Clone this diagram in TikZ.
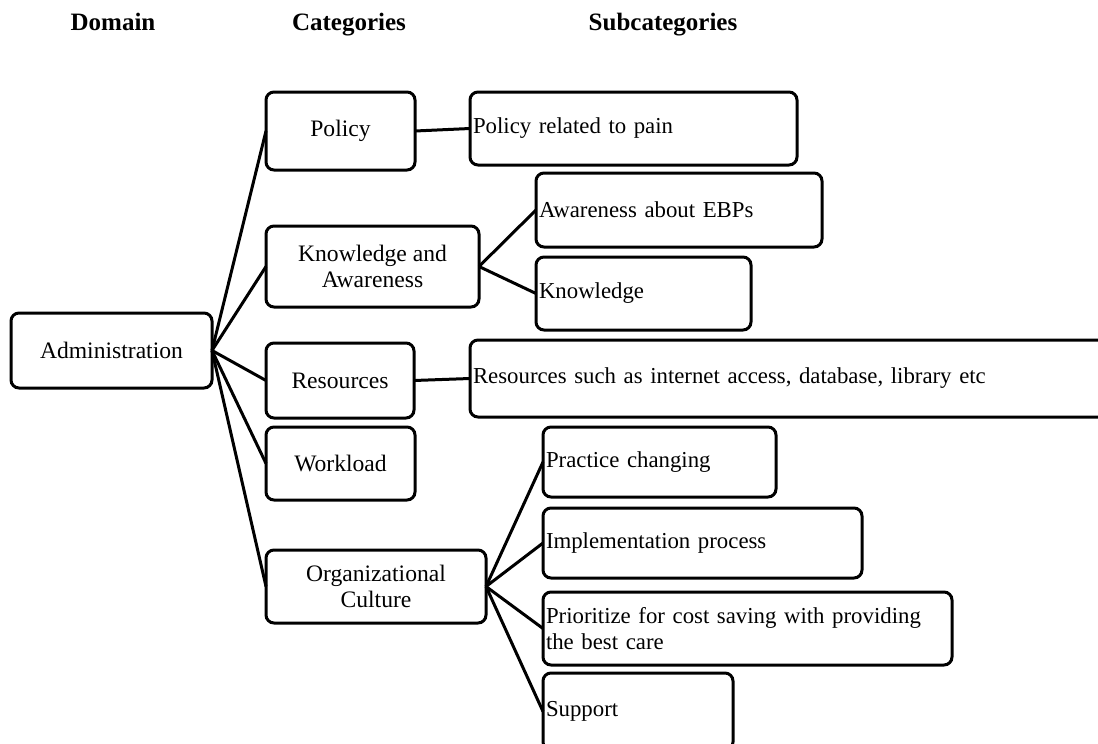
\documentclass[tikz,border=0pt]{standalone}
\usepackage{fontspec}
\setmainfont{Liberation Serif}
\usepackage{tikz}
\usetikzlibrary{
  positioning  % 节点相对定位
}

\tikzset{
  headtext/.style={anchor=base, font=\fontsize{12.5}{14}\selectfont\bfseries},
  catbox/.style={draw, rounded corners=4pt, line width=1.5pt, align=center,
    anchor=north west, inner sep=0pt, outer sep=0pt,
    font=\fontsize{11.8}{13.2}\selectfont},
  subbox/.style={draw, rounded corners=4pt, line width=1.5pt, align=left,
    anchor=north west, inner xsep=1.5pt, inner ysep=0pt, outer sep=0pt,
    font=\fontsize{11.4}{12.6}\selectfont},
  link/.style={line width=1.5pt}
}

\begin{document}
\begin{tikzpicture}[x=0.5pt, y=-0.5pt]
  \useasboundingbox (0,0) rectangle (1098,744);

  % =========== 表头 ===========
  \node[headtext] (hdomain) at (113,31) {Domain};
  \node[headtext] (hcat) at (349,31) {Categories};
  \node[headtext] (hsub) at (663,31) {Subcategories};

  % =========== 领域 ===========
  \node[catbox, minimum width=100.5pt, minimum height=37.5pt] (admin) at (11,313) {Administration};

  % =========== 类别 ===========
  \node[catbox, minimum width=74.5pt, minimum height=39pt] (policy) at (266,92) {Policy};
  \node[catbox, minimum width=106.5pt, minimum height=40.5pt] (knowaware) at (266,226) {Knowledge and\\Awareness};
  \node[catbox, minimum width=74pt, minimum height=37.5pt] (resources) at (266,343) {Resources};
  \node[catbox, minimum width=74.5pt, minimum height=36.5pt] (workload) at (266,427) {Workload};
  \node[catbox, minimum width=110pt, minimum height=36.5pt] (orgculture) at (266,550) {Organizational\\Culture};

  % =========== 子类别 ===========
  \node[subbox, text width=160.5pt, minimum height=36.5pt] (painpolicy) at (470,92) {Policy related to pain};
  \node[subbox, text width=140pt, minimum height=37pt] (ebp) at (536,173) {Awareness about EBPs};
  \node[subbox, text width=104.5pt, minimum height=36.5pt] (knowledge) at (536,257) {Knowledge};
  \node[subbox, text width=319.5pt, minimum height=38.5pt] (access) at (470,340) {Resources such as internet access, database, library etc};
  \node[subbox, text width=113.5pt, minimum height=35pt] (practice) at (543,427) {Practice changing};
  \node[subbox, text width=156.5pt, minimum height=35pt] (implement) at (543,508) {Implementation process};
  \node[subbox, text width=201.5pt, minimum height=36.5pt] (prioritize) at (543,592) {Prioritize for cost saving with providing\\the best care};
  \node[subbox, text width=92pt, minimum height=38.5pt] (support) at (543,673) {Support};

  % =========== 连线 ===========
  \foreach \c in {policy, knowaware, resources, workload, orgculture}
    \draw[link] (admin.east) -- (\c.west);
  \draw[link] (policy.east) -- (painpolicy.west);
  \draw[link] (knowaware.east) -- (ebp.west);
  \draw[link] (knowaware.east) -- (knowledge.west);
  \draw[link] (resources.east) -- (access.west);
  \foreach \s in {practice, implement, prioritize, support}
    \draw[link] (orgculture.east) -- (\s.west);

\end{tikzpicture}
\end{document}
